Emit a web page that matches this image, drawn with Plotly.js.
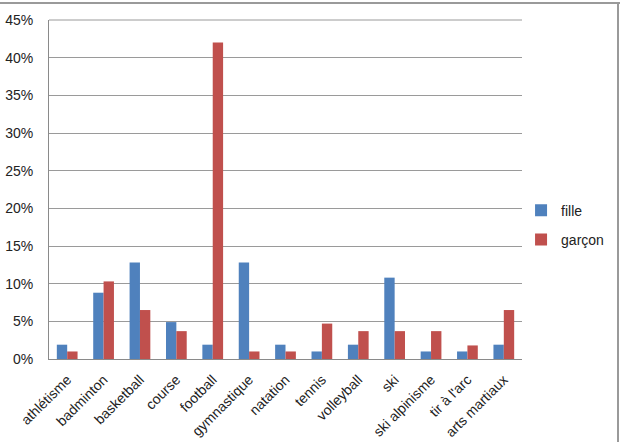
<!DOCTYPE html>
<html>
<head>
<meta charset="utf-8">
<script src="https://cdn.plot.ly/plotly-3.0.1.min.js"></script>
<style>
  html, body { margin: 0; padding: 0; background: #fff; }
  #wrap { position: relative; width: 621px; height: 442px; overflow: hidden; }
  #chart { width: 621px; height: 442px; }
  .bt { position: absolute; left: 0; top: 2px; width: 620px; height: 2px; background: #9a9a9a; }
  .br { position: absolute; left: 617px; top: 2px; width: 2px; height: 440px; background: #9a9a9a; }
</style>
</head>
<body>
<div id="wrap">
  <div id="chart"></div>
  <div class="bt"></div>
  <div class="br"></div>
</div>
<script>
const categories = ["athlétisme", "badminton", "basketball", "course", "football", "gymnastique", "natation", "tennis", "volleyball", "ski", "ski alpinisme", "tir à l'arc", "arts martiaux"];
const fille  = [1.9, 8.8, 12.8, 4.9, 1.9, 12.8, 1.9, 1.0, 1.9, 10.8, 1.0, 1.0, 1.9];
const garcon = [1.0, 10.3, 6.5, 3.7, 42.0, 1.0, 1.0, 4.7, 3.7, 3.7, 3.7, 1.8, 6.5];
const yTicks = [0, 5, 10, 15, 20, 25, 30, 35, 40, 45];

const font = { family: "Liberation Sans, Arial, sans-serif", size: 14, color: "#222" };

const data = [
  { type: "bar", name: "fille", x: categories, y: fille, marker: { color: "#4F81BD" }, legendgroup: "a" },
  { type: "bar", name: "garçon", x: categories, y: garcon, marker: { color: "#C0504D" }, legendgroup: "b" }
];

const layout = {
  width: 621, height: 442,
  margin: { l: 49, r: 94, t: 20, b: 83 },
  paper_bgcolor: "#fff", plot_bgcolor: "#fff",
  font: font,
  barmode: "group", bargap: 0.43, bargroupgap: 0,
  showlegend: true,
  legend: { x: 0.998, xanchor: "left", y: 0.395, yanchor: "middle", font: font, tracegroupgap: 8, bgcolor: "rgba(0,0,0,0)" },
  xaxis: {
    type: "category", tickangle: -45, showgrid: false, showline: true, linecolor: "#8a8a8a", linewidth: 1,
    ticks: "", tickfont: font, ticklabelstandoff: 6
  },
  yaxis: {
    range: [0, 45], tickvals: yTicks, ticktext: yTicks.map(v => v + "%"),
    showgrid: true, gridcolor: "#9a9a9a", gridwidth: 1, zeroline: false,
    showline: true, linecolor: "#8a8a8a", linewidth: 1, ticks: "", tickfont: font, ticklabelstandoff: 12
  },
  shapes: [
    { type: "line", xref: "paper", yref: "paper", x0: 0, x1: 1, y0: 1, y1: 1, line: { color: "#9a9a9a", width: 1 } }
  ]
};

Plotly.newPlot("chart", data, layout, { displayModeBar: false, staticPlot: true });
</script>
</body>
</html>
